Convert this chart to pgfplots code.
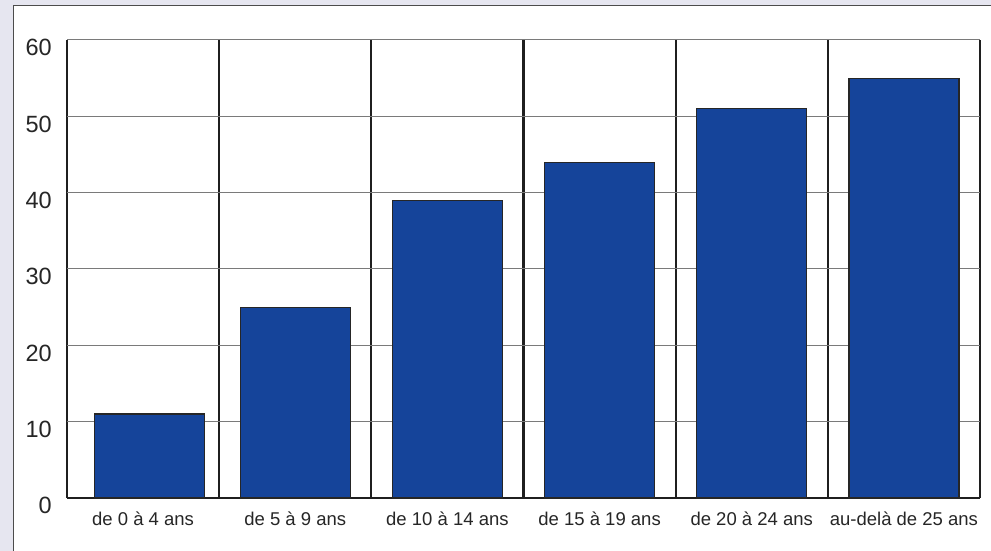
\documentclass[border=0pt]{standalone}
\usepackage{fontspec}
\setmainfont{Liberation Sans}
\usepackage{pgfplots}
\pgfplotsset{compat=1.18}
\definecolor{bgl}{HTML}{E6E6F0}
\definecolor{barblue}{HTML}{15449A}
\definecolor{gridgray}{HTML}{7A7A7A}
\begin{document}
\begin{tikzpicture}
\useasboundingbox (0bp,0bp) rectangle (991bp,551bp);
\clip (0bp,0bp) rectangle (991bp,551bp);
\fill[bgl] (0bp,0bp) rectangle (991bp,551bp);
\filldraw[fill=white, draw=black!70, line width=1.5bp] (13.5bp,-10bp) rectangle (1000bp,545.5bp);
\begin{axis}[
  at={(67bp,53bp)}, anchor=south west,
  scale only axis, width=913bp, height=458bp,
  xmin=0, xmax=6, ymin=0, ymax=60,
  clip=false,
  axis line style={draw=none},
  major tick length=0pt, minor tick length=0pt,
  ytick={0,10,...,60},
  xtick={0.5,1.5,2.5,3.5,4.5,5.5},
  xticklabels={de 0 à 4 ans, de 5 à 9 ans, de 10 à 14 ans, de 15 à 19 ans, de 20 à 24 ans, au-delà de 25 ans},
  minor xtick={0,1,...,6},
  ymajorgrids, xminorgrids,
  major grid style={gridgray, line width=1bp},
  minor grid style={black!88, line width=2.2bp},
  extra y ticks={0}, extra y tick labels={},
  extra y tick style={major grid style={black!88, line width=2.4bp}},
  /pgf/number format/assume math mode=true,
  yticklabel style={font=\fontsize{23.5bp}{26bp}\selectfont, text=black!85, anchor=base east, inner sep=0pt, xshift=-15bp, yshift=-16bp},
  xticklabel style={font=\fontsize{18.5bp}{21bp}\selectfont, text=black!85, anchor=base, inner sep=0pt, yshift=-28bp},
]
\addplot[ybar, bar width=110bp, fill=barblue, draw=black!85, line width=1.2bp]
  coordinates {(0.54,11) (1.5,25) (2.5,39) (3.5,44) (4.5,51) (5.5,55)};
\end{axis}
\end{tikzpicture}
\end{document}
